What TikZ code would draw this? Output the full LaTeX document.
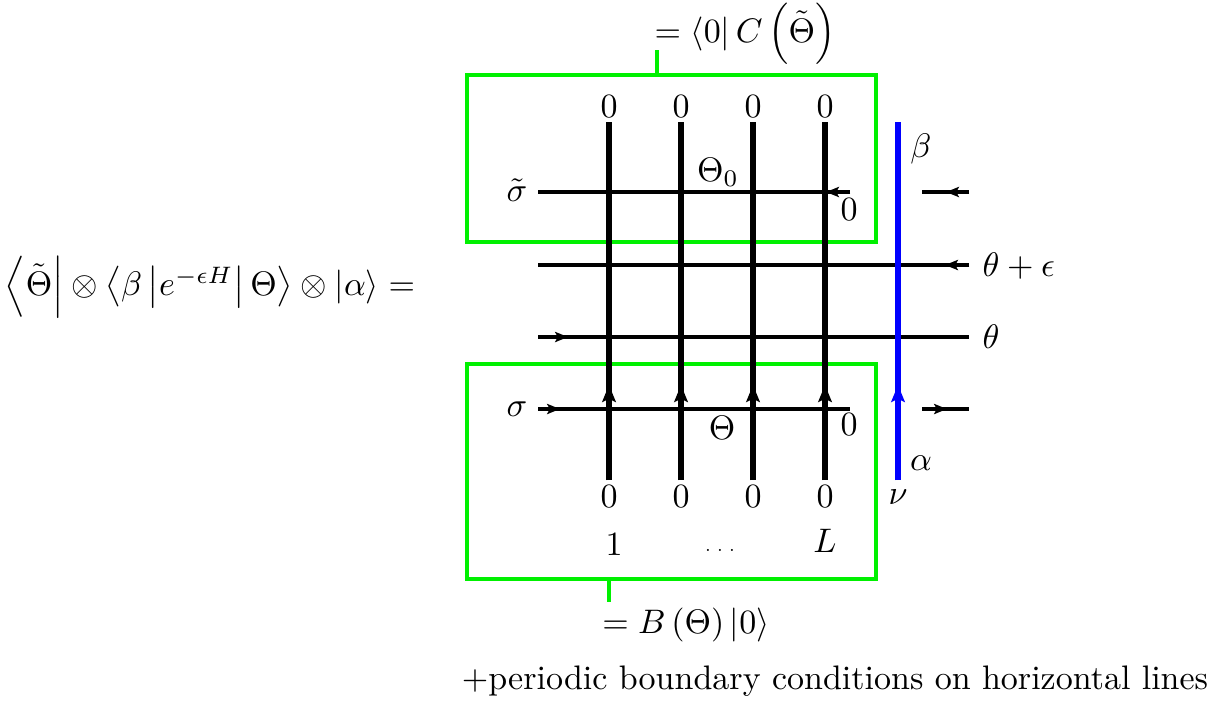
\documentclass[tikz,border=0pt]{standalone}
\usepackage{amsmath}
\usetikzlibrary{arrows.meta,calc}
\definecolor{brightgreen}{RGB}{0,240,0}
\tikzset{
  vline/.style={line width=1.5pt},
  hline/.style={line width=0.95pt},
  gbox/.style={draw=brightgreen,line width=1.2pt},
  bline/.style={line width=1.5pt,draw=blue},
  vtip/.style={-{Stealth[length=5pt,width=4pt,inset=1pt]}},
  htip/.style={-{Stealth[length=3.8pt,width=3pt,inset=0.8pt]}},
  lbl/.style={inner sep=0pt}
}
\begin{document}
\begin{tikzpicture}[x=0.294pt,y=-0.294pt]
\useasboundingbox (0,0) rectangle (1218,701);
% green boxes
\node[gbox,minimum width=409*0.294pt,minimum height=167*0.294pt,anchor=north west,inner sep=0pt] (topbox) at (465,73) {};
\node[gbox,minimum width=409*0.294pt,minimum height=215*0.294pt,anchor=north west,inner sep=0pt] (botbox) at (465,362) {};
\coordinate (tstem) at (657,73);
\coordinate (bstem) at (609,577);
\node[lbl] (toplab) at (745,34) {$=\left\langle 0\right| C\left(\tilde{\Theta}\right)$};
\node[lbl] (botlab) at (686,625) {$=B\left(\Theta\right)\left|0\right\rangle$};
\draw[draw=brightgreen,line width=1.2pt] (tstem) -- (657,50);
\draw[draw=brightgreen,line width=1.2pt] (bstem) -- (609,602);
% horizontal lines
\coordinate (h1a) at (538,192); \coordinate (h1b) at (850,192);
\coordinate (h2a) at (538,265); \coordinate (h2b) at (969,265);
\coordinate (h3a) at (538,337); \coordinate (h3b) at (969,337);
\coordinate (h4a) at (538,409); \coordinate (h4b) at (850,409);
\coordinate (s1a) at (922,192); \coordinate (s1b) at (969,192);
\coordinate (s4a) at (922,409); \coordinate (s4b) at (969,409);
\draw[hline] (h1b) -- (h1a);
\draw[hline] (h2b) -- (h2a);
\draw[hline] (h3a) -- (h3b);
\draw[hline] (h4a) -- (h4b);
\draw[hline] (s1b) -- (s1a);
\draw[hline] (s4a) -- (s4b);
% arrow tips on horizontal lines
\draw[hline,htip] (h1b) -- (826,192);
\draw[hline,htip] (h2b) -- (945,265);
\draw[hline,htip] (h3a) -- (568,337);
\draw[hline,htip] (h4a) -- (560,409);
\draw[hline,htip] (s1b) -- (946,192);
\draw[hline,htip] (s4a) -- (947,409);
% vertical lines
\foreach \x/\n in {609/1,681/2,753/3,825/4}{
  \coordinate (vb\n) at (\x,480);
  \coordinate (vt\n) at (\x,122);
  \draw[vline] (vb\n) -- (vt\n);
  \draw[vline,vtip] (vb\n) -- (\x,385);
  \node[lbl] (zt\n) at (\x,107) {$0$};
  \node[lbl] (zb\n) at (\x,497) {$0$};
}
% blue line
\coordinate (bb) at (898,480);
\coordinate (bt) at (898,122);
\draw[bline] (bb) -- (bt);
\draw[bline,vtip] (bb) -- (898,385);
\node[lbl] (beta) at (921,149) {$\beta$};
\node[lbl] (alpha) at (921,463) {$\alpha$};
\node[lbl] (nu) at (898,497) {$\nu$};
% labels
\node[lbl] (sigt) at (517,190) {$\tilde{\sigma}$};
\node[lbl] (zr1) at (849,210) {$0$};
\node[lbl] (th0) at (718,172) {$\Theta_0$};
\node[lbl,anchor=west] (thpe) at (982,266) {$\theta+\epsilon$};
\node[lbl,anchor=west] (th) at (982,337) {$\theta$};
\node[lbl] (sig) at (517,409) {$\sigma$};
\node[lbl] (zr4) at (849,425) {$0$};
\node[lbl] (Th) at (722,428) {$\Theta$};
\node[lbl] (one) at (614,545) {$1$};
\node[lbl] (dots) at (720,550) {\tiny$\ldots$};
\node[lbl] (L) at (825,541) {$L$};
% left equation
\node[lbl] (lhs) at (210,287) {$\left\langle \tilde{\Theta}\right| \otimes \left\langle \beta \left| e^{-\epsilon H}\right| \Theta\right\rangle \otimes \left|\alpha\right\rangle =$};
% bottom note
\node[lbl] (note) at (835,681) {+periodic boundary conditions on horizontal lines};
\end{tikzpicture}
\end{document}
